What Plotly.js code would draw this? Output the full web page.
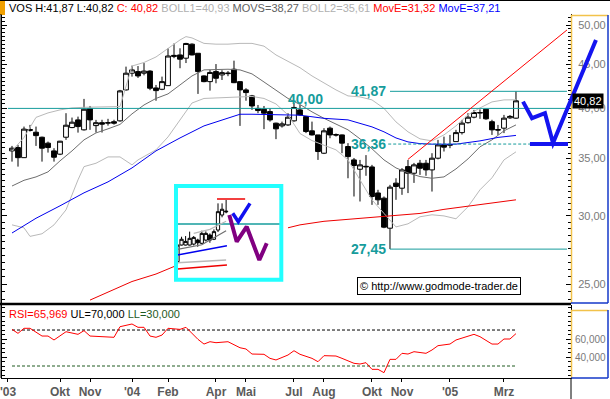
<!DOCTYPE html>
<html><head><meta charset="utf-8">
<script src="https://cdn.plot.ly/plotly-3.0.1.min.js"></script>
<style>html,body{margin:0;padding:0;background:#fff;}#chart{width:610px;height:399px;}</style>
</head><body><div id="chart"></div>
<script>
// ---- weekly candles (bar index 0 = week of 11 Aug 2003) ----
const barIdx = Array.from({length: 85}, (_, i) => i);
const opens  = [35.70,36.02,35.06,37.70,37.53,37.03,36.45,35.70,35.39,37.03,38.00,38.79,37.77,40.00,38.20,38.50,38.45,38.60,38.69,42.03,43.95,44.14,43.95,44.20,42.25,42.10,42.51,45.95,46.15,45.75,47.50,46.36,43.63,42.97,44.14,43.75,43.90,44.42,42.97,42.03,41.36,40.00,39.91,39.66,38.45,38.17,38.27,38.69,39.84,39.13,37.67,37.26,35.48,37.94,37.30,37.26,36.12,34.85,33.99,34.20,34.20,31.90,31.46,29.03,32.75,32.31,34.23,33.63,34.54,34.54,33.93,35.01,36.28,36.25,36.60,37.49,38.50,39.07,39.50,39.91,38.60,37.80,37.94,39.00,38.97];
const highs  = [36.18,36.28,38.10,38.27,38.10,37.09,36.60,35.96,36.67,39.49,39.03,39.13,41.03,40.26,38.79,38.80,38.90,38.80,42.03,44.73,44.85,44.80,45.16,44.30,42.59,43.55,46.98,47.59,46.98,47.67,47.60,46.36,43.70,44.34,45.04,44.30,44.20,45.45,43.00,42.22,41.47,40.37,40.26,40.00,38.50,38.61,39.49,40.55,40.37,39.20,38.61,37.26,37.94,38.10,37.40,37.30,36.45,35.03,34.85,35.30,34.39,32.17,31.60,32.60,33.18,34.09,34.85,34.57,34.85,34.85,35.48,36.77,37.09,37.26,37.77,38.79,39.49,39.84,39.90,39.91,38.80,38.27,39.31,39.30,41.87];
const lows   = [34.69,34.23,35.03,37.60,36.18,34.69,35.54,34.69,35.30,36.77,37.94,37.49,37.70,37.77,37.50,37.50,38.20,38.30,38.60,41.95,43.55,43.40,43.70,42.00,40.83,42.00,42.50,45.75,44.54,45.16,46.10,41.58,42.90,41.95,42.78,43.16,43.60,42.80,38.17,40.83,39.84,39.49,37.84,38.61,36.84,38.00,38.17,38.60,39.20,37.44,37.20,34.85,35.40,36.93,37.10,35.48,33.18,31.60,31.18,33.40,30.90,30.90,29.03,27.45,31.32,31.74,31.89,32.77,33.48,33.40,32.02,34.90,35.64,35.96,36.60,37.30,38.40,38.95,38.90,38.80,37.26,37.26,37.44,38.90,38.90];
const closes = [35.96,35.06,37.84,37.80,37.19,35.96,36.02,35.10,36.64,38.24,38.55,38.10,39.91,38.79,38.50,38.35,38.50,38.45,41.92,43.95,44.34,43.63,44.20,42.22,41.95,42.97,46.02,46.10,45.63,47.59,46.15,44.14,42.97,44.04,43.36,44.02,43.95,42.85,42.03,41.73,40.26,39.77,39.49,38.79,37.87,38.38,39.07,40.10,39.31,37.60,37.26,35.64,37.67,37.26,37.25,36.45,35.16,34.33,34.39,34.25,31.60,31.32,29.11,32.40,32.46,33.93,33.63,34.39,34.08,33.93,35.01,36.28,36.06,36.30,37.49,38.45,39.07,39.56,39.56,38.90,37.77,37.75,38.97,39.15,40.82];

// ---- indicators ----
const bbUpIdx  = [0,2,4,6,8,10,12,14,16,18,20,22,24,26,28,29,30,32,34,36,38,40,42,44,46,48,50,52,54,56,58,60,62,64,66,68,70,72,74,76,78,80,82,84];
const bbUp     = [35.7,37.0,39.05,39.52,39.84,40.05,40.12,40.12,40.15,40.2,44.8,45.23,45.9,47.0,48.04,48.47,48.3,47.6,47.5,47.5,47.6,47.6,47.25,46.15,45.4,44.6,43.63,42.8,42.03,41.36,41.25,40.92,40.0,38.58,37.57,36.87,36.67,37.26,38.17,39.31,40.05,40.7,40.92,40.93];
const bbMidIdx = [0,2,4,6,8,10,12,14,16,18,20,22,24,26,28,30,32,34,36,38,40,42,44,46,48,50,52,54,56,58,60,62,64,66,68,70,72,74,76,78,80,82,84];
const bbMid    = [32.5,33.0,33.3,33.75,34.76,35.7,36.77,37.46,37.87,38.32,39.42,40.37,41.08,41.58,42.59,43.63,44.34,44.42,44.42,44.34,43.87,42.93,41.97,41.08,40.42,39.63,38.95,38.37,37.77,36.87,35.9,34.85,34.11,33.66,33.33,33.18,33.3,34.02,34.94,36.09,36.77,37.67,38.27];
const bbLowIdx = [0,2,3,5,7,9,11,12,14,16,18,20,21,24,26,28,30,32,36,40,42,44,46,48,50,52,54,56,58,60,62,64,66,68,70,72,74,76,78,80,82,84];
const bbLow    = [29.29,29.06,28.4,28.6,29.29,30.49,33.04,34.23,34.54,35.13,35.13,34.39,34.85,35.8,37.06,38.79,40.58,41.08,41.2,41.3,41.08,40.48,39.31,37.4,36.7,36.28,35.8,34.85,33.04,31.32,30.2,29.13,29.37,29.93,30.09,30.0,29.77,30.74,32.17,33.22,34.85,35.61];
const emaFastIdx = [0,4,8,12,16,20,24,28,32,36,38,40,44,48,52,56,60,62,64,66,68,70,74,78,81,84];
const emaFast    = [28.66,29.81,30.82,31.91,32.86,34.11,35.70,36.96,38.17,38.96,39.38,39.38,39.31,39.28,38.95,38.79,38.07,37.57,36.96,36.57,36.40,36.35,36.35,36.67,37.01,37.21];
const emaSlowIdx = [13,16,20,24,27,null,46,48,52,56,60,64,68,72,76,80,84];
const emaSlow    = [23.95,24.47,25.17,25.68,26.20,null,29.06,29.29,29.57,29.73,29.89,30.05,30.20,30.53,30.78,31.07,31.32];

const rsiIdx = [0,1,2,3,5,6,7,9,11,12,13,17,18,20,21,22,23,24,25,26,28,29,31,32,33,34,36,38,39,40,42,43,44,46,47,48,50,51,52,54,55,57,58,59,60,61,62,63,64,65,66,67,69,70,71,73,74,76,77,78,80,81,82,83,84];
const rsiVal = [70.7,66.3,71.9,71.9,63.3,63.3,58.9,68.1,65.2,69.3,63.3,61.9,73.7,76.7,73,73,63.3,61.9,64.4,71.9,70.7,73,59.6,54.4,57,55.9,57,50.3,48.9,43.3,43,38.5,36.7,42.2,47,43,38.5,34.8,41.5,41.1,38.5,33,32.2,33.7,26.3,26.3,22.6,37.4,37.4,44.1,43.3,45.9,44.1,47.8,52.6,54.4,58.9,62.6,65.2,62.6,54.4,54.4,60,60,65.97];
const rsiUpper = 70, rsiLower = 30;

// ---- drawn levels / annotations ----
const levelVals   = [40.00, 41.87, 36.36, 27.45];
const levelLabels = ['40,00', '41,87', '36,36', '27,45'];
const levelStart  = [-0.67, 63, 62.7, 63];
const levelEnd    = [92.5, 92.5, 86.33, 92.5];
const trendIdx = [66, 92.5];
const trendVal = [34.9, 49.34];
const projIdx = [85.17, 86.67, 88.83, 90.17, 97.33];
const projVal = [40.73, 38.97, 39.49, 36.45, 48.04];
const projFloorIdx = [86.33, 92.67];

const monthTickIdx = [-0.67, 8, 13, 20, 26, 34, 39, 47, 52, 60, 65, 73, 82];
const monthLabels  = ["'03","Okt","Nov","'04","Feb","Apr","Mai","Jul","Aug","Okt","Nov","'05","Mrz"];
const priceTicks = [25, 30, 35, 40, 45, 50];
const priceTickText = ['25,00','30,00','35,00','40,00','45,00','50,00'];
const rsiTicks = [40, 60];
const rsiTickText = ['40,000','60,000'];

// ---- inset mini chart ----
const miniIdx = [0,1,2,3,4,5,6,7,8,9,10,11,12];
const miniO = [37.19,38.43,38.43,38.43,38.50,38.80,38.56,38.80,39.18,38.86,39.55,40.67,40.90];
const miniH = [38.50,39.05,39.10,39.43,39.10,38.90,39.50,39.45,39.30,39.60,41.54,41.54,41.79];
const miniL = [37.10,38.40,38.40,38.40,38.40,38.30,38.50,38.70,38.60,38.80,39.40,40.50,40.80];
const miniC = [38.43,38.86,38.70,38.93,39.00,38.60,39.30,39.30,38.80,39.43,40.92,41.10,40.95];
const miniRedIdx = [0,6.4,12.2];   const miniRed = [36.64,36.77,36.94];
const miniBlueIdx = [0,6.3,12.2];  const miniBlue = [37.69,38.06,38.38];
const miniLowIdx = [0,12];         const miniLow = [37.11,37.31];
const miniMidIdx = [0,6,12];       const miniMid = [38.1,38.45,39.5];
const miniUpIdx = [4,8,12];        const miniUp = [39.3,39.6,40.2];
const miniLevel = 40.00, miniTop = 41.87;
const miniTopIdx = [9.75, 16.7];
const miniLevelIdx = [-0.5, 25.8];
const miniBlueZigIdx = [13.63, 15.01, 17.9];
const miniBlueZig = [40.80, 40.17, 41.54];
const miniPurpleIdx = [12.79, 14.62, 17.09, 20.2, 22.03];
const miniPurple = [40.67, 38.68, 39.80, 37.31, 38.56];

// ---- geometry ----
const XR = [-1.667, 93.17];
const YR = [1.37591, 1.71176];
const MAIN_DOM = [0.20604, 1];
const RSI_DOM = [0, 0.2005];
const PXL = 2, PXW = 569, PYT = 14, PYH = 364;
const px = v => (v - PXL) / PXW;
const py = v => (PYT + PYH - v) / PYH;
function toPaper(k, p) {
  const fx = (k - XR[0]) / (XR[1] - XR[0]);
  const fy = (Math.log10(p) - YR[0]) / (YR[1] - YR[0]);
  return [fx, MAIN_DOM[0] + fy * (MAIN_DOM[1] - MAIN_DOM[0])];
}

const TEAL = '#169c9c', LGRAY = '#b9b9b9', DGRAY = '#6e6e6e';
const FONT = 'Liberation Sans, Arial, sans-serif';

const traces = [];
const line = (x, y, color, width, extra) => Object.assign({type:'scatter', mode:'lines', x, y, line:{color, width}, hoverinfo:'skip'}, extra || {});

traces.push(line(bbUpIdx, bbUp, LGRAY, 1));
traces.push(line(bbLowIdx, bbLow, LGRAY, 1));
traces.push(line(bbMidIdx, bbMid, DGRAY, 1));
traces.push(line(emaFastIdx, emaFast, '#0000ee', 1));
traces.push(line(emaSlowIdx, emaSlow, '#ee0000', 1, {connectgaps:false}));
levelVals.forEach((v, i) => {
  traces.push(line([levelStart[i], levelEnd[i]], [v, v], TEAL, 1, i === 2 ? {line:{color:TEAL, width:1, dash:'3px,2px'}} : {}));
});
traces.push(line(trendIdx, trendVal, '#ff0000', 1));
traces.push({type:'candlestick', x:barIdx, open:opens, high:highs, low:lows, close:closes,
  increasing:{line:{color:'#000', width:1}, fillcolor:'#fff'},
  decreasing:{line:{color:'#000', width:1}, fillcolor:'#000'}, hoverinfo:'skip', whiskerwidth:0});

// RSI
traces.push(line([0, 84], [rsiUpper, rsiUpper], '#000', 1, {yaxis:'y2', line:{color:'#000', width:1, dash:'3px,2px'}}));
traces.push(line([0, 84], [rsiLower, rsiLower], '#1e5a1e', 1, {yaxis:'y2', line:{color:'#1e5a1e', width:1, dash:'3px,2px'}}));
traces.push(line(rsiIdx, rsiVal, '#ff0000', 1, {yaxis:'y2'}));

// inset
const ins = {xaxis:'x2', yaxis:'y3'};
traces.push(line(miniLevelIdx, [miniLevel, miniLevel], TEAL, 1.5, ins));
traces.push(line(miniRedIdx, miniRed, '#ee0000', 1.5, ins));
traces.push(line(miniLowIdx, miniLow, LGRAY, 1.5, ins));
traces.push(line(miniBlueIdx, miniBlue, '#0000ee', 1.5, ins));
traces.push(line(miniMidIdx, miniMid, DGRAY, 1.2, ins));
traces.push(line(miniUpIdx, miniUp, LGRAY, 1.2, ins));
traces.push(line(miniTopIdx, [miniTop, miniTop], '#ee0000', 1.5, ins));
traces.push(Object.assign({type:'candlestick', x:miniIdx, open:miniO, high:miniH, low:miniL, close:miniC,
  increasing:{line:{color:'#000', width:1}, fillcolor:'#fff'},
  decreasing:{line:{color:'#000', width:1}, fillcolor:'#000'}, hoverinfo:'skip', whiskerwidth:0}, ins));
traces.push(line(miniBlueZigIdx, miniBlueZig, '#1010f0', 3.5, ins));
traces.push(line(miniPurpleIdx, miniPurple, '#800080', 4, ins));

// shapes
const shapes = [];
const pl = (x0, y0, x1, y1, color, width) => shapes.push({type:'line', xref:'paper', yref:'paper', x0:px(x0), y0:py(y0), x1:px(x1), y1:py(y1), line:{color, width}, layer:'above'});
pl(0, 0.5, 610, 0.5, '#000', 1);
shapes.push({type:'rect', xref:'paper', yref:'paper', x0:px(0), x1:px(5), y0:py(1), y1:py(15), fillcolor:'#f0a000', line:{width:0}, layer:'above'});
pl(0, 304, 571, 304, '#000', 2.5);
pl(1, 14, 1, 378, '#000', 1);
// right panels
pl(571.5, 15, 571.5, 303, '#f2c24a', 1.5);
pl(571, 15.5, 608, 15.5, '#f2c24a', 1.5);
pl(608, 15, 608, 303, '#1438c8', 1.5);
pl(571, 303, 608, 303, '#1438c8', 1.5);
pl(571.5, 310, 571.5, 378, '#f2c24a', 1.5);
pl(571, 310.5, 608, 310.5, '#f2c24a', 1.5);
pl(608, 310, 608, 378, '#1438c8', 1.5);
pl(571, 378, 608, 378, '#1438c8', 1.5);
pl(571, 378, 571, 399, '#000', 1);
// inset border
shapes.push({type:'rect', xref:'paper', yref:'paper', x0:px(176), x1:px(281.3), y0:py(186), y1:py(279.7), line:{color:'#22ffff', width:4}, layer:'above'});
// projection path (extends into the axis panel)
let path = '';
projIdx.forEach((k, i) => { const [a, b] = toPaper(k, projVal[i]); path += (i ? ' L ' : 'M ') + a + ' ' + b; });
shapes.push({type:'path', xref:'paper', yref:'paper', path, line:{color:'#1414f0', width:4}, layer:'above'});
const f0 = toPaper(projFloorIdx[0], levelVals[2]), f1 = toPaper(projFloorIdx[1], levelVals[2]);
shapes.push({type:'line', xref:'paper', yref:'paper', x0:f0[0], y0:f0[1], x1:f1[0], y1:f1[1], line:{color:'#1414f0', width:4}, layer:'above'});

// annotations
const annotations = [];
annotations.push({xref:'paper', yref:'paper', x:px(7), y:py(7.5), xanchor:'left', yanchor:'middle', showarrow:false,
  font:{family:FONT, size:11, color:'#000'},
  text:'VOS H:41,87 L:40,82 <span style="color:#ff0000">C: 40,82</span> <span style="color:#b0b0b0">BOLL1=40,93</span> <span style="color:#606060">MOVS=38,27</span> <span style="color:#b0b0b0">BOLL2=35,61</span> <span style="color:#ff0000">MovE=31,32</span> <span style="color:#0000ff">MovE=37,21</span>'});
annotations.push({xref:'paper', yref:'paper', x:px(7), y:py(314), xanchor:'left', yanchor:'middle', showarrow:false,
  font:{family:FONT, size:11, color:'#000'},
  text:'<span style="color:#ff0000">RSI=65,969</span> UL=70,000 <span style="color:#1e5a1e">LL=30,000</span>'});
annotations.push({xref:'x', yref:'y', x:48.9, y:Math.log10(41.02), xanchor:'center', yanchor:'middle', showarrow:false,
  text:levelLabels[0], font:{family:FONT, size:14, color:TEAL, weight:'bold'}});
for (let i = 1; i < 4; i++) {
  annotations.push({xref:'x', yref:'y', x:62.6, y:Math.log10(levelVals[i]), xanchor:'right', yanchor:'middle', showarrow:false,
    text:levelLabels[i], font:{family:FONT, size:14, color:TEAL, weight:'bold'}});
}
annotations.push({xref:'paper', yref:'y', x:px(587.5), y:Math.log10(closes[84]), xanchor:'center', yanchor:'middle', showarrow:false,
  text:'40,82', bgcolor:'#000', borderpad:1, font:{family:FONT, size:11, color:'#fff'}});
annotations.push({xref:'paper', yref:'paper', x:px(439), y:py(285.5), xanchor:'center', yanchor:'middle', showarrow:false,
  text:'© http://www.godmode-trader.de', bgcolor:'#fff', bordercolor:'#000', borderwidth:1, borderpad:2,
  font:{family:FONT, size:11, color:'#000'}});

const yCommon = {side:'right', showgrid:false, zeroline:false, ticks:'inside', ticklen:5, tickcolor:'#000',
  showline:true, linecolor:'#000', linewidth:1, mirror:'ticks', ticklabelstandoff:4,
  tickfont:{family:FONT, size:11, color:'#7a7a7a'}, fixedrange:true};

const layout = {
  width:610, height:399, margin:{l:2, r:39, t:14, b:21, pad:0},
  paper_bgcolor:'#fff', plot_bgcolor:'#fff', showlegend:false, separators:',.',
  boxgap:0.2, boxgroupgap:0, font:{family:FONT, size:11, color:'#000'},
  xaxis:{domain:[0,1], anchor:'y2', range:XR, tickmode:'array', tickvals:monthTickIdx, ticktext:monthLabels,
    ticks:'outside', ticklen:3, tickcolor:'#000', showline:true, linecolor:'#000', showgrid:false, zeroline:false,
    ticklabeloverflow:'allow', automargin:false,
    tickfont:{family:FONT, size:12, color:'#5a5a5a', weight:'bold'}, rangeslider:{visible:false}, fixedrange:true},
  yaxis:Object.assign({}, yCommon, {domain:MAIN_DOM, anchor:'x', type:'log', range:YR, tickmode:'array',
    tickvals:priceTicks, ticktext:priceTickText,
    minor:{dtick:'L0.5', ticks:'inside', ticklen:3, tickcolor:'#000', showgrid:false}}),
  yaxis2:Object.assign({}, yCommon, {domain:RSI_DOM, anchor:'x', range:[16.67, 97.78], tickmode:'array',
    tickvals:rsiTicks, ticktext:rsiTickText, ticklabelstandoff:1,
    tickfont:{family:FONT, size:10, color:'#7a7a7a'},
    minor:{dtick:5, ticks:'inside', ticklen:3, tickcolor:'#000', showgrid:false}}),
  xaxis2:{domain:[px(174), px(283.5)], anchor:'y3', range:[-0.864, 26.17], visible:false, rangeslider:{visible:false}, fixedrange:true},
  yaxis3:{domain:[py(281.7), py(184)], anchor:'x2', range:[35.694, 42.985], visible:false, fixedrange:true},
  shapes, annotations
};

Plotly.newPlot('chart', traces, layout, {displayModeBar:false, staticPlot:true});
</script></body></html>
